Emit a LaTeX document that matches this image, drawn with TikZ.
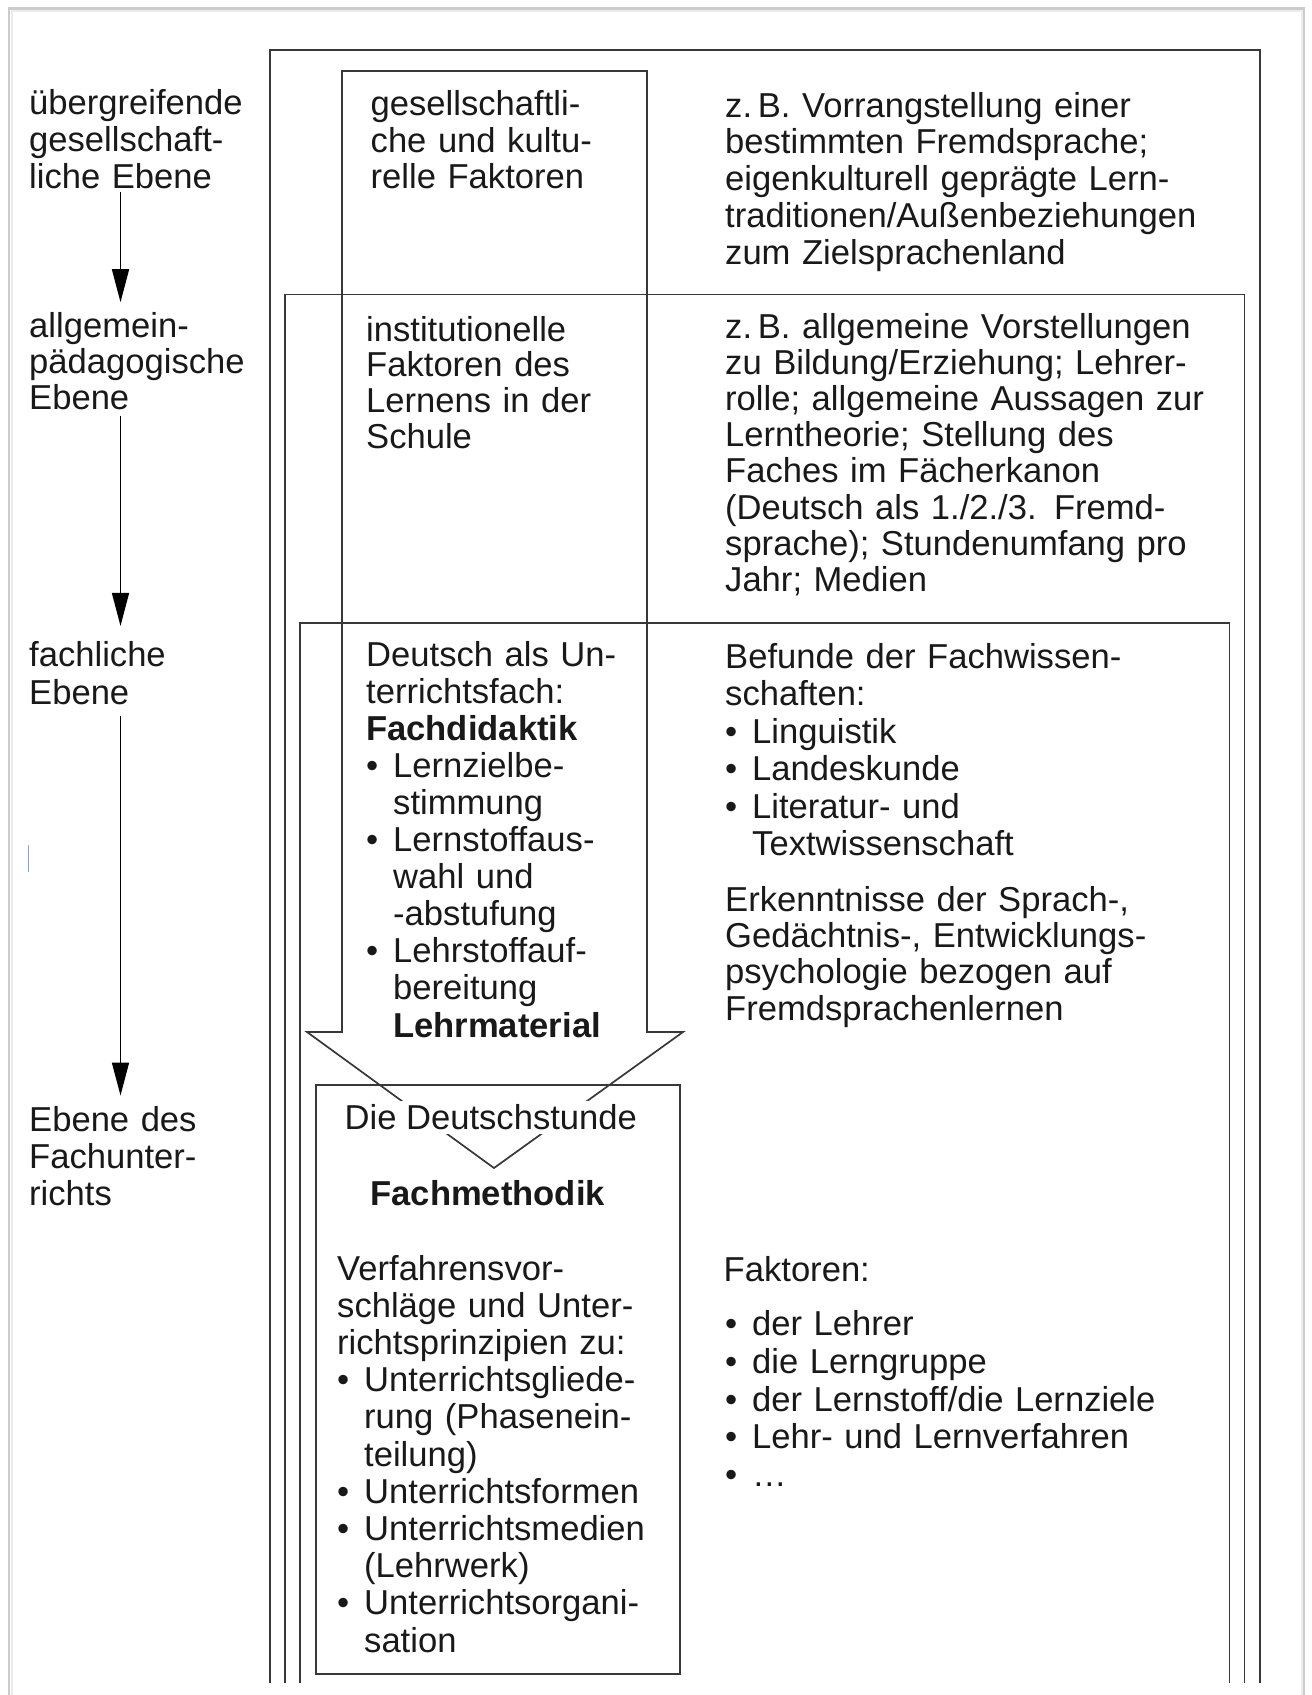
\documentclass[tikz,border=0pt]{standalone}
\usepackage{fontspec}
\setmainfont{Liberation Sans}
\usetikzlibrary{arrows.meta}
\newcommand\mybul{\makebox[27pt][l]{•}}
\newcommand\myind{\hspace*{27pt}}
\begin{document}
\begin{tikzpicture}[x=1pt,y=-1pt,
  txt/.style={font=\fontsize{34.6}{#1}\selectfont, inner sep=0pt, anchor=base west,
              text width=620pt, align=left, text=black!90, yshift=-3pt},
  txt/.default=36.9,
  lbl/.style={font=\fontsize{34.6}{36.9}\selectfont, inner sep=0pt, text=black!90, yshift=-3pt},
  frm/.style={draw=black!78, line width=1.7pt},
  arr/.style={draw=black, line width=1.5pt, -{Triangle[length=33pt,width=17pt]}},
]
\fill[white] (0,0) rectangle (1312,1695);
\useasboundingbox (0,0) rectangle (1312,1695);

% page frame
\draw[gray!40, line width=2.5pt] (9,1695) -- (9,8.5) -- (1304,8.5) -- (1304,1695);
\draw[gray!15, line width=2pt] (11.5,1695) -- (11.5,11) -- (1301.5,11) -- (1301.5,1695);
% small blue mark
\draw[line width=1.5pt, color={rgb,255:red,140;green,160;blue,210}] (28.3,845) -- (28.3,872);

% nested open boxes
\draw[frm] (270,1683) -- (270,50) -- (1260,50) -- (1260,1683);
\draw[frm] (285,1683) -- (285,294.5) -- (1244.5,294.5) -- (1244.5,1683);
\draw[frm] (300,1683) -- (300,623) -- (1229.5,623) -- (1229.5,1683);

% column with big arrow
\draw[frm, line join=miter] (342,1032) -- (342,71) -- (647,71) -- (647,1032) -- (683,1032)
   -- (494,1168) -- (307,1032) -- cycle;

% Fachmethodik box
\node[frm, inner sep=0pt, minimum width=364pt, minimum height=589pt, anchor=north west]
   (fmbox) at (315,1084) {};

% left labels
\node[txt=37.25] (lab1) at (29,111) {übergreifende\\gesellschaft-\\liche Ebene};
\node[txt=36] (lab2) at (29,334) {allgemein-\\pädagogische\\Ebene};
\node[txt=38] (lab3) at (29,663) {fachliche\\Ebene};
\node[txt=37] (lab4) at (29,1128) {Ebene des\\Fachunter-\\richts};

% level arrows between the labels
\coordinate (ax) at (120.5,0);
\draw[arr, shorten <=2.5pt, shorten >=9.5pt] (lab1.south -| ax) -- (lab2.north -| ax);
\draw[arr, shorten <=6pt, shorten >=14.8pt] (lab2.south -| ax) -- (lab3.north -| ax);
\draw[arr, shorten <=11pt, shorten >=10.2pt] (lab3.south -| ax) -- (lab4.north -| ax);

% column texts
\node[txt=36.3] (c1) at (370.5,112.8) {gesellschaftli-\\che und kultu-\\relle Faktoren};
\node[txt=35.9] (c2) at (366,338) {institutionelle\\Faktoren des\\Lernens in der\\Schule};
\node[txt=37.1] (c3) at (366,663) {Deutsch als Un-\\terrichtsfach:\\\textbf{Fachdidaktik}\\
  \mybul Lernzielbe-\\\myind stimmung\\\mybul Lernstoffaus-\\\myind wahl und\\\myind -abstufung\\
  \mybul Lehrstoffauf-\\\myind bereitung\\\myind\textbf{Lehrmaterial}};

% right texts
\node[txt=36.8] (r1) at (725,114) {z.\,B. Vorrangstellung einer\\bestimmten Fremdsprache;\\eigenkulturell geprägte Lern-\\traditionen/Außenbeziehungen\\zum Zielsprachenland};
\node[txt=36.24] (r2) at (725,335) {z.\,B. allgemeine Vorstellungen\\zu Bildung/Erziehung; Lehrer-\\rolle; allgemeine Aussagen zur\\Lerntheorie; Stellung des\\Faches im Fächerkanon\\(Deutsch als 1./2./3. Fremd-\\sprache); Stundenumfang pro\\Jahr; Medien};
\node[txt=37.5] (r3) at (725,665) {Befunde der Fachwissen-\\schaften:\\\mybul Linguistik\\\mybul Landeskunde\\\mybul Literatur- und\\\myind Textwissenschaft};
\node[txt=36.4] (r4) at (725,908) {Erkenntnisse der Sprach-,\\Gedächtnis-, Entwicklungs-\\psychologie bezogen auf\\Fremdsprachenlernen};
\node[txt] (r5) at (723.5,1278.6) {Faktoren:};
\node[txt=37.8] (r6) at (725,1332.5) {\mybul der Lehrer\\\mybul die Lerngruppe\\\mybul der Lernstoff/die Lernziele\\\mybul Lehr- und Lernverfahren\\\mybul …};

% Fachmethodik box contents
\node[lbl, anchor=base, fill=white, inner xsep=1pt, inner ysep=3.5pt] (ds) at (490.8,1126.7) {Die Deutschstunde};
\node[lbl, anchor=base, font=\fontsize{34.6}{36.9}\selectfont\bfseries] (fm) at (487.7,1202) {Fachmethodik};
\node[txt=37.2] (f1) at (337,1277) {Verfahrensvor-\\schläge und Unter-\\richtsprinzipien zu:\\
  \mybul Unterrichtsgliede-\\\myind rung (Phasenein-\\\myind teilung)\\\mybul Unterrichtsformen\\
  \mybul Unterrichtsmedien\\\myind (Lehrwerk)\\\mybul Unterrichtsorgani-\\\myind sation};
\end{tikzpicture}
\end{document}
